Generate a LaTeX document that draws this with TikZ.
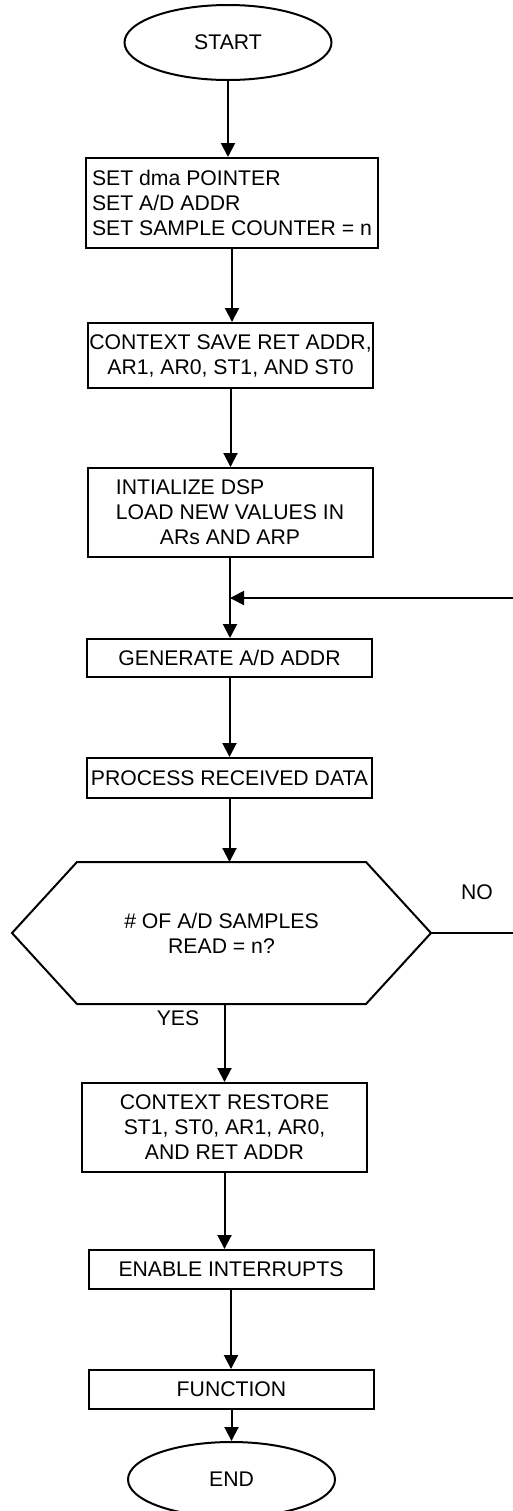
\documentclass[tikz,border=0pt]{standalone}
\usepackage{fontspec}
\setmainfont{Liberation Sans}
\usetikzlibrary{shapes.geometric,arrows.meta}
\begin{document}
\begin{tikzpicture}[x=0.5pt,y=-0.5pt,line width=1pt,
  every node/.style={font=\fontsize{10.6}{12.5}\selectfont},
  box/.style={rectangle, draw, inner xsep=1.5pt, minimum width=142.5pt},
  term/.style={ellipse, draw, minimum width=103.5pt, minimum height=37.5pt},
  decision/.style={rectangle, align=center, minimum width=208.5pt, minimum height=70pt},
  flow/.style={-{Triangle[length=7pt,width=7pt]}}]
\useasboundingbox (0,0) rectangle (513,1511);
\node[term] (start) at (228,42.5) {START};
\node[box, align=left, minimum width=146pt, minimum height=45pt] (set) at (232,203) {SET dma POINTER\\SET A/D ADDR\\SET SAMPLE COUNTER = n};
\node[box, align=center, inner xsep=0pt, minimum height=32.5pt] (save) at (230.5,355.5) {CONTEXT SAVE RET ADDR,\\AR1, AR0, ST1, AND ST0};
\node[box, align=left, minimum height=44.5pt] (init) at (230,512.5) {INTIALIZE DSP\\LOAD NEW VALUES IN\\\hspace*{22pt}ARs AND ARP};
\node[box, minimum height=19pt] (gen) at (229.5,658) {GENERATE A/D ADDR};
\node[box, minimum height=20pt] (proc) at (229.5,778) {PROCESS RECEIVED DATA};
\node[decision] (test) at (221.5,933) {\# OF A/D SAMPLES\\READ = n?};
\draw (test.west) -- ([xshift=32.5pt]test.north west) -- ([xshift=-32.5pt]test.north east)
  -- (test.east) -- ([xshift=-32.5pt]test.south east) -- ([xshift=32.5pt]test.south west) -- cycle;
\node[box, align=center, minimum height=44.5pt] (restore) at (224.5,1127.5) {CONTEXT RESTORE\\ST1, ST0, AR1, AR0,\\AND RET ADDR};
\node[box, minimum height=19.5pt] (enable) at (231,1269.5) {ENABLE INTERRUPTS};
\node[box, minimum height=19.5pt] (func) at (231.5,1389.5) {FUNCTION};
\node[term] (stop) at (231.5,1479.5) {END};
\node (no) at (477,892) {NO};
\node (yes) at (178,1018) {YES};
\coordinate (loopT) at (513,598);
\coordinate (loopR) at (513,933);
\draw[flow] (start) -- (start |- set.north);
\draw[flow] (set) -- (set |- save.north);
\draw[flow] (save) -- (save |- init.north);
\draw[flow] (init) -- (init |- gen.north);
\draw[flow] (loopT) -- (init |- loopT);
\draw[flow] (gen) -- (gen |- proc.north);
\draw[flow] (proc) -- (proc |- test.north);
\draw (test.east) -- (loopR);
\draw[flow] (restore |- test.south) -- (restore.north);
\draw[flow] (restore) -- (restore |- enable.north);
\draw[flow] (enable) -- (enable |- func.north);
\draw[flow] (func) -- (func |- stop.north);
\end{tikzpicture}
\end{document}
